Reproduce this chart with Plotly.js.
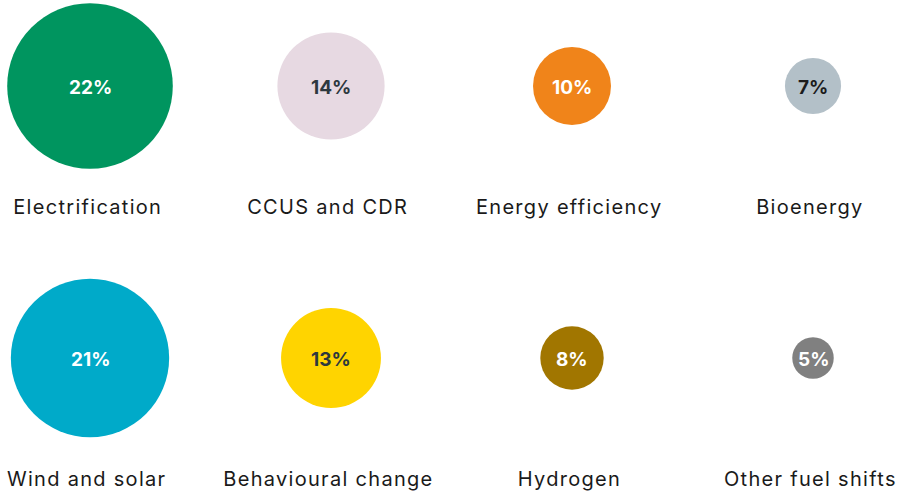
<!DOCTYPE html>
<html>
<head>
<meta charset="utf-8">
<script src="https://cdn.plot.ly/plotly-3.0.1.min.js"></script>
<style>
  html, body { margin: 0; padding: 0; background: #fff; }
  #chart { width: 900px; height: 493px; }
  /* category names are set a little wide in the original */
  .annotation.cat-label .annotation-text { letter-spacing: 1.3px; }
</style>
</head>
<body>
<div id="chart"></div>
<script>
// === Data ===
const labels = ['Electrification', 'CCUS and CDR', 'Energy efficiency', 'Bioenergy',
                'Wind and solar', 'Behavioural change', 'Hydrogen', 'Other fuel shifts'];
const shares = [22, 14, 10, 7, 21, 13, 8, 5];

// === Styles ===
const bubbleColors = ['#00955f', '#e7d9e2', '#f0841a', '#b3c0c8',
                      '#00aac9', '#ffd400', '#a17600', '#808080'];
const valueColors = ['#ffffff', '#2d383e', '#ffffff', '#1c1c1c',
                     '#ffffff', '#2d383e', '#ffffff', '#ffffff'];
const FONT = 'Inter, "Noto Sans", sans-serif';
const COLS = 4;

// grid position from index (4 per row)
const col = labels.map((_, i) => i % COLS);
const row = labels.map((_, i) => Math.floor(i / COLS));
// diameter grows with share
const diam = shares.map(v => 7.3 * v + 5);

const bubbles = {
  x: col,
  y: row,
  mode: 'markers',
  marker: { size: diam, sizemode: 'diameter', color: bubbleColors, line: { width: 0 }, opacity: 1 },
  hoverinfo: 'skip',
  cliponaxis: false
};

// value inside each bubble
const valueNotes = shares.map((v, i) => ({
  x: col[i], y: row[i], xref: 'x', yref: 'y',
  text: v + '%', showarrow: false,
  yshift: -1.5,
  font: { family: FONT, size: 19, weight: 700, color: valueColors[i] }
}));

// category name under each bubble
const nameNotes = labels.map((name, i) => ({
  x: col[i], y: row[i], xref: 'x', yref: 'y',
  text: name, showarrow: false,
  yshift: -121, xshift: -3,
  font: { family: FONT, size: 20, color: '#1a1a1a' }
}));

// pixel-based axis ranges: column centres at 90 + 241*i, row centres at 86 + 272*j
const layout = {
  width: 900, height: 493,
  margin: { l: 0, r: 0, t: 0, b: 0 },
  paper_bgcolor: '#ffffff',
  plot_bgcolor: '#ffffff',
  showlegend: false,
  xaxis: { range: [-90 / 241, 810 / 241], visible: false, fixedrange: true },
  yaxis: { range: [407 / 272, -86 / 272], visible: false, fixedrange: true },
  annotations: valueNotes.concat(nameNotes)
};

Plotly.newPlot('chart', [bubbles], layout, { displayModeBar: false, staticPlot: true }).then(gd => {
  // tag the name annotations so the letter-spacing rule reaches them
  const notes = gd.querySelectorAll('.annotation');
  notes.forEach((n, k) => { if (k >= valueNotes.length) n.classList.add('cat-label'); });
});
</script>
</body>
</html>
